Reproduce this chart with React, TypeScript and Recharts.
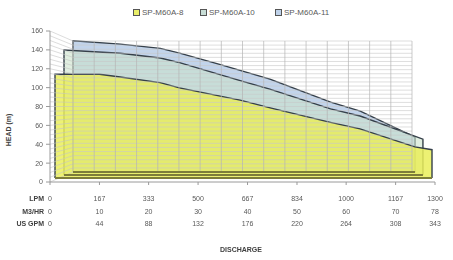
import {
  Area,
  ComposedChart,
  Line,
  ReferenceLine,
  XAxis,
  YAxis,
} from "recharts";

// series names (front to back)
const seriesNames = ["SP-M60A-8", "SP-M60A-10", "SP-M60A-11"];

// discharge (LPM) vs head (m)
const lpm8 = [0, 150, 220, 355, 420, 625, 730, 930, 1030, 1215, 1273];
const head8 = [110, 110, 107, 101, 95.5, 82.5, 74, 59, 52, 33, 30];
const lpm10 = [0, 190, 325, 390, 595, 695, 900, 1000, 1212];
const head10 = [132.5, 129, 124, 119, 100, 91, 70, 62.5, 38];
const lpm11 = [0, 160, 295, 360, 495, 665, 870, 970, 1155];
const head11 = [139, 135.5, 131, 126, 114, 98.5, 74, 64.5, 37];

// axis tables
const lpmTicks = [0, 167, 333, 500, 667, 834, 1000, 1167, 1300];
const m3hrTicks = [0, 10, 20, 30, 40, 50, 60, 70, 78];
const usGpmTicks = [0, 44, 88, 132, 176, 220, 264, 308, 343];
const rowLabels = ["LPM", "M3/HR", "US GPM"];
const headTicks = [0, 20, 40, 60, 80, 100, 120, 140, 160];

const FONT = "'Liberation Sans', Arial, sans-serif";
const X_MAX = 1300;
const Y_MAX = 160;
// plot box in pixels
const PW = 385;
const PH = 151;
const kx = PW / X_MAX;
const ky = PH / Y_MAX;

// 3d depth shift of each series (px right, px up)
const depth = [
  [5, 4],
  [14, 7],
  [23, 10],
];
// back wall: 339 x 131 px, starting 23px right / 10px up
const WALL_W = 339;
const WALL_H = 131;
const kxw = WALL_W / X_MAX;
const kyw = WALL_H / Y_MAX;

const fills = ["#eaef5a", "#cbe2cc", "#bfd2ea"];
const opac = [0.85, 0.6, 0.95];
const legendFills = ["#eaef6a", "#c8ddd6", "#bfd2ea"];

const toRows = (xs: number[], ys: number[]) => [
  { x: xs[0], h: 0 },
  ...xs.map((x, i) => ({ x, h: ys[i] })),
  { x: xs[xs.length - 1], h: 0 },
];
const series = [
  toRows(lpm8, head8),
  toRows(lpm10, head10),
  toRows(lpm11, head11),
];
// invisible anchor so the axes get drawn
const axisRows = lpmTicks.map((x, i) => ({ x, h: headTicks[i] }));

const wallH: number[] = [];
for (let v = 0; v <= Y_MAX; v += 5) wallH.push(v);
const wallV: number[] = [];
for (let i = 0; i <= 16; i++) wallV.push((X_MAX / 16) * i);

const renderDischargeTick = (props: any) => {
  const { x, y, index } = props;
  const rows = [lpmTicks, m3hrTicks, usGpmTicks];
  return (
    <g key={"t" + index}>
      {rows.map((r, i) => (
        <text
          key={i}
          x={x}
          y={y + 14 + i * 12.5}
          textAnchor="middle"
          fontSize={7}
          fill="#595959"
          fontFamily={FONT}
        >
          {r[index]}
        </text>
      ))}
      {index === 0 &&
        rowLabels.map((l, i) => (
          <text
            key={"l" + i}
            x={x - 6}
            y={y + 14 + i * 12.5}
            textAnchor="end"
            fontSize={7}
            fontWeight="bold"
            fill="#404040"
            fontFamily={FONT}
          >
            {l}
          </text>
        ))}
    </g>
  );
};

export default function App() {
  return (
    <div
      style={{
        position: "fixed",
        left: 0,
        top: 0,
        width: 453,
        height: 260,
        background: "#fff",
        fontFamily: FONT,
      }}
    >
      {seriesNames.map((n, i) => (
        <div
          key={n}
          style={{
            position: "absolute",
            top: 8,
            left: [133, 200, 275][i],
            display: "flex",
            alignItems: "center",
            fontSize: 8,
            color: "#595959",
          }}
        >
          <span
            style={{
              width: 5,
              height: 5,
              border: "1px solid #555",
              background: legendFills[i],
              marginRight: 2,
            }}
          />
          {n}
        </div>
      ))}
      <div
        style={{
          position: "absolute",
          left: 3,
          top: 130,
          transform: "translate(-50%, -50%) rotate(-90deg)",
          transformOrigin: "center",
          marginLeft: 5,
          fontSize: 7,
          fontWeight: "bold",
          color: "#404040",
          whiteSpace: "nowrap",
        }}
      >
        HEAD (m)
      </div>
      <div
        style={{
          position: "absolute",
          left: 0,
          width: 482,
          top: 246,
          textAlign: "center",
          fontSize: 7,
          fontWeight: "bold",
          color: "#404040",
        }}
      >
        DISCHARGE
      </div>
      <ComposedChart
        width={453}
        height={260}
        data={axisRows}
        margin={{ top: 31, right: 18, bottom: 0, left: 0 }}
        style={{ position: "absolute", left: 0, top: 0 }}
      >
        <XAxis
          xAxisId="front"
          dataKey="x"
          type="number"
          domain={[0, X_MAX]}
          ticks={lpmTicks}
          height={78}
          tickSize={3}
          stroke="#9a9a9a"
          tick={renderDischargeTick}
        />
        <YAxis
          yAxisId="front"
          dataKey="h"
          type="number"
          domain={[0, Y_MAX]}
          ticks={headTicks}
          width={50}
          tickSize={4}
          tickMargin={3}
          stroke="#9a9a9a"
          tick={{ fontSize: 7, fill: "#595959", fontFamily: FONT }}
        />
        <XAxis
          xAxisId="wall"
          dataKey="x"
          type="number"
          hide
          height={0}
          allowDataOverflow
          domain={[-23 / kxw, (PW - 23) / kxw]}
        />
        <YAxis
          yAxisId="wall"
          type="number"
          hide
          width={0}
          allowDataOverflow
          domain={[-10 / kyw, (PH - 10) / kyw]}
        />
        {depth.map(([dx, dy], i) => (
          <XAxis
            key={"x" + i}
            xAxisId={"f" + i}
            dataKey="x"
            type="number"
            hide
            height={0}
            allowDataOverflow
            domain={[-dx / kx, X_MAX - dx / kx]}
          />
        ))}
        {depth.map(([dx, dy], i) => (
          <YAxis
            key={"y" + i}
            yAxisId={"f" + i}
            type="number"
            hide
            width={0}
            allowDataOverflow
            domain={[-dy / ky, Y_MAX - dy / ky]}
          />
        ))}

        <Line
          xAxisId="front"
          yAxisId="front"
          dataKey="h"
          stroke="none"
          dot={false}
          activeDot={false}
          legendType="none"
          isAnimationActive={false}
        />
        <Line
          xAxisId="wall"
          yAxisId="wall"
          dataKey="h"
          stroke="none"
          dot={false}
          activeDot={false}
          legendType="none"
          isAnimationActive={false}
        />

        {/* side wall hatch */}
        {wallH.map((v) => (
          <ReferenceLine
            key={"s" + v}
            xAxisId="front"
            yAxisId="front"
            ifOverflow="visible"
            segment={[
              { x: 0, y: v },
              { x: 23 / kx, y: (10 + v * kyw) / ky },
            ]}
            stroke="#c4c4c4"
            strokeWidth={0.6}
          />
        ))}
        {/* back wall grid */}
        {wallH.map((v) => (
          <ReferenceLine
            key={"h" + v}
            xAxisId="wall"
            yAxisId="wall"
            ifOverflow="visible"
            segment={[
              { x: 0, y: v },
              { x: X_MAX, y: v },
            ]}
            stroke="#c8c8c8"
            strokeWidth={0.6}
          />
        ))}
        {wallV.map((u) => (
          <ReferenceLine
            key={"v" + u}
            xAxisId="wall"
            yAxisId="wall"
            ifOverflow="visible"
            segment={[
              { x: u, y: 0 },
              { x: u, y: Y_MAX },
            ]}
            stroke="#b4b4b4"
            strokeWidth={0.7}
          />
        ))}

        {[2, 1, 0].map((i) => (
          <Area
            key={"a" + i}
            data={series[i]}
            xAxisId={"f" + i}
            yAxisId={"f" + i}
            dataKey="h"
            name={seriesNames[i]}
            type="linear"
            fill={fills[i]}
            fillOpacity={opac[i]}
            stroke="#36404a"
            strokeWidth={1.4}
            dot={false}
            activeDot={false}
            isAnimationActive={false}
          />
        ))}
        {[2, 1, 0].map((i) => (
          <ReferenceLine
            key={"b" + i}
            xAxisId={"f" + i}
            yAxisId={"f" + i}
            ifOverflow="visible"
            segment={[
              { x: 0, y: 0 },
              { x: series[i][series[i].length - 1].x, y: 0 },
            ]}
            stroke="#7d7d3a"
            strokeWidth={2}
          />
        ))}
      </ComposedChart>
    </div>
  );
}
